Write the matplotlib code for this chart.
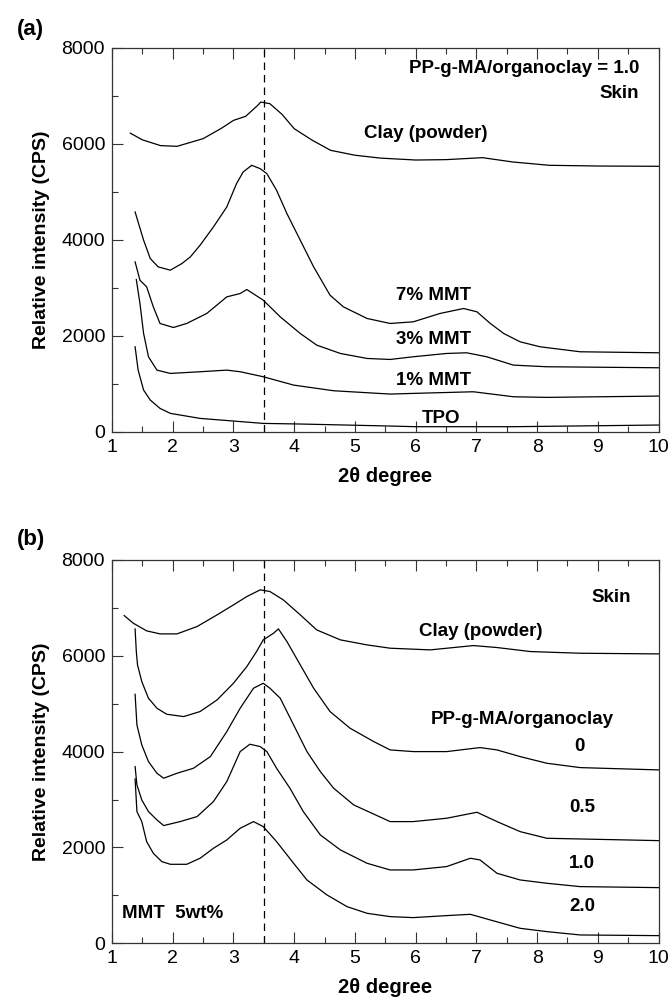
import matplotlib
matplotlib.use("Agg")
import matplotlib.pyplot as plt
from matplotlib.ticker import MultipleLocator

plt.rcParams['font.family'] = ['Liberation Sans', 'DejaVu Sans']

# ---- panel (a): skin, PP-g-MA/organoclay = 1.0 ----
clay_a_x = [1.30, 1.5, 1.8, 2.07, 2.5, 2.8, 3.0, 3.2, 3.4, 3.45, 3.6, 3.8, 4.0, 4.3, 4.6,
            5.0, 5.42, 6.0, 6.5, 7.1, 7.6, 8.2, 9.0, 10.0]
clay_a_y = [6220, 6080, 5960, 5945, 6105, 6320, 6486, 6570, 6800, 6868, 6833, 6611, 6313, 6070,
            5862, 5760, 5700, 5660, 5668, 5709, 5619, 5550, 5535, 5529]

mmt7_x = [1.38, 1.52, 1.63, 1.76, 1.96, 2.15, 2.29, 2.45, 2.67, 2.89, 3.05, 3.16, 3.30, 3.44,
          3.55, 3.71, 3.88, 4.10, 4.32, 4.59, 4.81, 5.2, 5.58, 5.96, 6.40, 6.79, 7.01, 7.23,
          7.45, 7.72, 8.05, 8.71, 10.0]
mmt7_y = [4578, 3990, 3607, 3434, 3365, 3503, 3642, 3885, 4266, 4682, 5168, 5411, 5550, 5480,
          5376, 5029, 4544, 3989, 3434, 2844, 2601, 2359, 2255, 2289, 2463, 2567, 2497, 2255,
          2046, 1873, 1769, 1665, 1644]

mmt3_x = [1.38, 1.46, 1.57, 1.68, 1.79, 2.01, 2.23, 2.56, 2.89, 3.11, 3.22, 3.49, 3.77, 4.10,
          4.37, 4.76, 5.2, 5.58, 5.96, 6.51, 6.84, 7.17, 7.61, 8.16, 10.0]
mmt3_y = [3538, 3156, 3018, 2601, 2255, 2171, 2255, 2463, 2809, 2879, 2962, 2740, 2393, 2046,
          1804, 1630, 1526, 1505, 1561, 1630, 1644, 1561, 1387, 1353, 1332]

mmt1_x = [1.40, 1.46, 1.52, 1.60, 1.74, 1.96, 2.45, 2.89, 3.11, 3.49, 3.99, 4.65, 5.58, 5.96,
          6.95, 7.61, 8.16, 10.0]
mmt1_y = [3170, 2671, 2046, 1561, 1283, 1214, 1249, 1283, 1249, 1145, 971, 853, 784, 798,
          832, 728, 715, 742]

tpo_x = [1.38, 1.43, 1.52, 1.63, 1.79, 1.96, 2.45, 3.0, 3.49, 4.1, 5.58, 6.0, 7.6, 10.0]
tpo_y = [1769, 1283, 867, 659, 486, 382, 277, 222, 173, 160, 118, 104, 104, 139]

# ---- panel (b): skin, MMT 5 wt%, varying PP-g-MA/organoclay ----
clay_b_x = [1.20, 1.35, 1.57, 1.79, 2.07, 2.40, 2.73, 3.0, 3.22, 3.44, 3.60, 3.82, 4.1, 4.37,
            4.76, 5.2, 5.58, 6.24, 6.95, 7.34, 7.89, 8.71, 10.0]
clay_b_y = [6841, 6681, 6521, 6458, 6458, 6611, 6855, 7063, 7237, 7377, 7342, 7168, 6855, 6541,
            6333, 6228, 6159, 6124, 6214, 6173, 6089, 6054, 6040]

r0_x = [1.38, 1.40, 1.42, 1.49, 1.60, 1.74, 1.90, 2.18, 2.45, 2.73, 3.0, 3.22, 3.38, 3.49,
        3.66, 3.74, 3.88, 4.1, 4.32, 4.59, 4.92, 5.31, 5.58, 5.96, 6.51, 7.06, 7.34, 7.72,
        8.16, 8.71, 10.0]
r0_y = [6562, 6089, 5811, 5463, 5115, 4906, 4781, 4732, 4837, 5080, 5428, 5776, 6089, 6333,
        6472, 6562, 6298, 5811, 5324, 4837, 4489, 4210, 4036, 4001, 4001, 4085, 4036, 3897,
        3758, 3667, 3619]

r05_x = [1.38, 1.41, 1.49, 1.60, 1.74, 1.85, 2.07, 2.34, 2.62, 2.89, 3.11, 3.33, 3.49, 3.60,
         3.77, 3.99, 4.21, 4.43, 4.65, 4.98, 5.58, 5.96, 6.51, 7.01, 7.34, 7.72, 8.16, 10.0]
r05_y = [5198, 4558, 4141, 3793, 3549, 3445, 3549, 3653, 3897, 4419, 4906, 5324, 5428, 5324,
         5115, 4558, 4001, 3584, 3236, 2888, 2540, 2540, 2610, 2735, 2540, 2331, 2192, 2143]

r10_x = [1.38, 1.41, 1.49, 1.60, 1.74, 1.85, 2.12, 2.40, 2.67, 2.89, 3.11, 3.27, 3.44, 3.55,
         3.71, 3.93, 4.15, 4.43, 4.76, 5.2, 5.58, 5.96, 6.51, 6.90, 7.06, 7.34, 7.72, 8.16,
         8.71, 10.0]
r10_y = [3688, 3306, 2992, 2749, 2575, 2457, 2540, 2644, 2958, 3375, 4001, 4155, 4106, 4001,
         3653, 3236, 2749, 2262, 1949, 1670, 1531, 1531, 1601, 1775, 1740, 1461, 1322, 1253,
         1183, 1162]

r20_x = [1.38, 1.41, 1.49, 1.57, 1.68, 1.82, 1.96, 2.23, 2.45, 2.67, 2.89, 3.11, 3.33, 3.49,
         3.71, 3.99, 4.21, 4.54, 4.87, 5.2, 5.58, 5.96, 6.51, 6.90, 7.23, 7.72, 8.16, 8.71, 10.0]
r20_y = [3431, 2749, 2540, 2122, 1879, 1705, 1649, 1649, 1775, 1983, 2157, 2401, 2540, 2436,
         2122, 1670, 1322, 1009, 765, 626, 557, 536, 578, 605, 487, 313, 244, 174, 160]

d_spacing_x = 3.5

fig = plt.figure(figsize=(6.72, 10), dpi=100)
ax_a = fig.add_axes([0.1667, 0.5683, 0.8133, 0.384])
ax_b = fig.add_axes([0.1667, 0.0567, 0.8133, 0.3833])


def style_axes(ax):
    ax.set_xlim(1, 10)
    ax.set_ylim(0, 8000)
    ax.xaxis.set_major_locator(MultipleLocator(1))
    ax.xaxis.set_minor_locator(MultipleLocator(0.5))
    ax.yaxis.set_major_locator(MultipleLocator(2000))
    ax.yaxis.set_minor_locator(MultipleLocator(1000))
    ax.tick_params(which='both', direction='in', top=True, right=False,
                   color='#333333', width=0.8, labelsize=14)
    ax.tick_params(which='major', length=8)
    ax.tick_params(which='minor', length=4.5)
    ax.tick_params(axis='x', pad=5)
    ax.tick_params(axis='y', pad=5)
    for s in ax.spines.values():
        s.set_color('#333333')
        s.set_linewidth(0.9)
    ax.axvline(d_spacing_x, color='black', lw=0.9, ls=(0, (6, 4)))
    ax.set_xlabel('2θ degree', fontsize=14.5, fontweight='bold', labelpad=8)
    ax.set_ylabel('Relative intensity (CPS)', fontsize=14, fontweight='bold', labelpad=8)


lw = 0.9
for xs, ys in [(clay_a_x, clay_a_y), (mmt7_x, mmt7_y), (mmt3_x, mmt3_y),
               (mmt1_x, mmt1_y), (tpo_x, tpo_y)]:
    ax_a.plot(xs, ys, color='black', lw=lw)
style_axes(ax_a)

fs = 13.5
tk = dict(fontsize=fs, fontweight='bold', ha='center', va='center')
ax_a.text(9.68, 7560, 'PP-g-MA/organoclay = 1.0', fontsize=fs, fontweight='bold',
          ha='right', va='center')
ax_a.text(9.68, 7040, 'Skin', fontsize=fs, fontweight='bold', ha='right', va='center')
ax_a.text(6.17, 6216, 'Clay (powder)', **tk)
ax_a.text(6.29, 2845, '7% MMT', **tk)
ax_a.text(6.29, 1923, '3% MMT', **tk)
ax_a.text(6.29, 1076, '1% MMT', **tk)
ax_a.text(6.42, 285, 'TPO', **tk)

for xs, ys in [(clay_b_x, clay_b_y), (r0_x, r0_y), (r05_x, r05_y),
               (r10_x, r10_y), (r20_x, r20_y)]:
    ax_b.plot(xs, ys, color='black', lw=lw)
style_axes(ax_b)

ax_b.text(9.55, 7209, 'Skin', fontsize=fs, fontweight='bold', ha='right', va='center')
ax_b.text(7.08, 6503, 'Clay (powder)', **tk)
ax_b.text(7.75, 4662, 'PP-g-MA/organoclay', **tk)
ax_b.text(8.69, 4100, '0', **tk)
ax_b.text(8.74, 2825, '0.5', **tk)
ax_b.text(8.74, 1656, '1.0', **tk)
ax_b.text(8.74, 758, '2.0', **tk)
ax_b.text(1.16, 612, 'MMT  5wt%', fontsize=fs, fontweight='bold', ha='left', va='center')

fig.text(0.046, 0.971, '(a)', fontsize=16, fontweight='bold', ha='center', va='center')
fig.text(0.046, 0.46, '(b)', fontsize=16, fontweight='bold', ha='center', va='center')

fig.savefig('out.png', dpi=100)
